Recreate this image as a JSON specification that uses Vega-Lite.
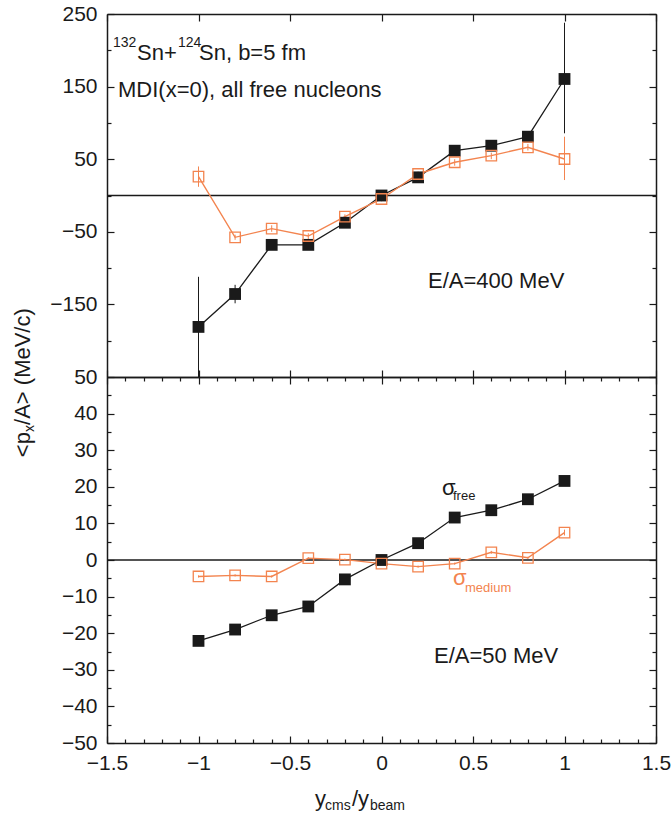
{
  "$schema": "https://vega.github.io/schema/vega-lite/v6.json",
  "width": 549,
  "height": 729,
  "autosize": "none",
  "padding": {"left": 107, "top": 14, "right": 15, "bottom": 73},
  "background": "white",
  "config": {
    "view": {"stroke": null},
    "axis": {
      "domainColor": "#1a1a1a", "domainWidth": 1.5,
      "tickColor": "#1a1a1a", "tickWidth": 1.2,
      "labelFont": "Liberation Sans", "labelFontSize": 21, "labelColor": "#1a1a1a",
      "grid": false, "labelFlush": false, "labelOverlap": false
    }
  },
  "datasets": {
    "top": [
      {"x": -1, "s": "free", "y": -181, "lo": -250, "hi": -112},
      {"x": -0.8, "s": "free", "y": -135.7, "lo": -148.5, "hi": -123},
      {"x": -0.6, "s": "free", "y": -68, "lo": -68, "hi": -68},
      {"x": -0.4, "s": "free", "y": -68, "lo": -68, "hi": -68},
      {"x": -0.2, "s": "free", "y": -37.5, "lo": -37.5, "hi": -37.5},
      {"x": 0, "s": "free", "y": 0, "lo": 0, "hi": 0},
      {"x": 0.2, "s": "free", "y": 25, "lo": 25, "hi": 25},
      {"x": 0.4, "s": "free", "y": 61.7, "lo": 61.7, "hi": 61.7},
      {"x": 0.6, "s": "free", "y": 68.6, "lo": 68.6, "hi": 68.6},
      {"x": 0.8, "s": "free", "y": 81, "lo": 81, "hi": 81},
      {"x": 1, "s": "free", "y": 160.5, "lo": 85.7, "hi": 238},
      {"x": -1, "s": "medium", "y": 26, "lo": 12, "hi": 40},
      {"x": -0.8, "s": "medium", "y": -57.6, "lo": -61, "hi": -54},
      {"x": -0.6, "s": "medium", "y": -45.7, "lo": -50, "hi": -41},
      {"x": -0.4, "s": "medium", "y": -55.8, "lo": -60, "hi": -52},
      {"x": -0.2, "s": "medium", "y": -29.2, "lo": -33, "hi": -26},
      {"x": 0, "s": "medium", "y": -4.8, "lo": -8, "hi": -2},
      {"x": 0.2, "s": "medium", "y": 29.6, "lo": 26, "hi": 33},
      {"x": 0.4, "s": "medium", "y": 45.8, "lo": 41, "hi": 50},
      {"x": 0.6, "s": "medium", "y": 54.9, "lo": 50, "hi": 59},
      {"x": 0.8, "s": "medium", "y": 66.4, "lo": 62, "hi": 71},
      {"x": 1, "s": "medium", "y": 50.3, "lo": 21.3, "hi": 81}
    ],
    "bottom": [
      {"x": -1, "s": "free", "y": -22.1},
      {"x": -0.8, "s": "free", "y": -19.0},
      {"x": -0.6, "s": "free", "y": -15.1},
      {"x": -0.4, "s": "free", "y": -12.7},
      {"x": -0.2, "s": "free", "y": -5.3},
      {"x": 0, "s": "free", "y": 0},
      {"x": 0.2, "s": "free", "y": 4.6},
      {"x": 0.4, "s": "free", "y": 11.6},
      {"x": 0.6, "s": "free", "y": 13.6},
      {"x": 0.8, "s": "free", "y": 16.6},
      {"x": 1, "s": "free", "y": 21.6},
      {"x": -1, "s": "medium", "y": -4.5, "lo": -4.8, "hi": -4.2},
      {"x": -0.8, "s": "medium", "y": -4.2, "lo": -4.5, "hi": -3.9},
      {"x": -0.6, "s": "medium", "y": -4.5, "lo": -4.8, "hi": -4.2},
      {"x": -0.4, "s": "medium", "y": 0.5, "lo": 0.2, "hi": 0.8},
      {"x": -0.2, "s": "medium", "y": 0.1, "lo": -0.2, "hi": 0.4},
      {"x": 0, "s": "medium", "y": -1.0, "lo": -1.3, "hi": -0.7},
      {"x": 0.2, "s": "medium", "y": -1.8, "lo": -2.1, "hi": -1.5},
      {"x": 0.4, "s": "medium", "y": -1.0, "lo": -1.3, "hi": -0.7},
      {"x": 0.6, "s": "medium", "y": 2.1, "lo": 1.7, "hi": 2.5},
      {"x": 0.8, "s": "medium", "y": 0.6, "lo": 0.3, "hi": 0.9},
      {"x": 1, "s": "medium", "y": 7.5, "lo": 6.7, "hi": 8.3}
    ],
    "labels": [
      {"role": "top-main", "x": -1.3361, "y": 186.6, "t": "Sn+"},
      {"role": "top-main", "x": -0.9973, "y": 186.6, "t": "Sn, b=5 fm"},
      {"role": "top-main", "x": -1.4399, "y": 135.7, "t": "MDI(x=0), all free nucleons"},
      {"role": "top-main", "x": 0.254, "y": -127.4, "t": "E/A=400 MeV"},
      {"role": "top-sup", "x": -1.4672, "y": 204.5, "t": "132"},
      {"role": "top-sup", "x": -1.112, "y": 204.5, "t": "124"},
      {"role": "bottom-main", "x": 0.2869, "y": -28.1, "t": "E/A=50 MeV"},
      {"role": "bottom-main", "x": 0.3306, "y": 17.76, "t": "σ"},
      {"role": "bottom-sub", "x": 0.3907, "y": 16.4, "t": "free"},
      {"role": "medium-main", "x": 0.3907, "y": -6.83, "t": "σ"},
      {"role": "medium-sub", "x": 0.4563, "y": -8.74, "t": "medium"},
      {"role": "xtitle-main", "x": -0.3634, "y": -67.2, "t": "y"},
      {"role": "xtitle-main", "x": -0.1612, "y": -67.2, "t": "/y"},
      {"role": "xtitle-sub", "x": -0.3087, "y": -68.3, "t": "cms"},
      {"role": "xtitle-sub", "x": -0.0628, "y": -68.3, "t": "beam"},
      {"role": "ytitle-main", "x": -1.9208, "y": 28.1, "t": "<p"},
      {"role": "ytitle-main", "x": -1.9208, "y": 36.9, "t": "/A> (MeV/c)"},
      {"role": "ytitle-sub", "x": -1.899, "y": 34.97, "t": "x"}
    ]
  },
  "layer": [
    {
      "data": {"values": [{"y": 0}]},
      "mark": {"type": "rule", "color": "#1a1a1a", "strokeWidth": 1.6},
      "encoding": {
        "y": {"field": "y", "type": "quantitative", "scale": {"domain": [-250, 250], "range": [363, 0], "nice": false, "zero": false}, "axis": null}
      }
    },
    {
      "data": {"values": [{"y": 0}]},
      "mark": {"type": "rule", "color": "#1a1a1a", "strokeWidth": 1.6},
      "encoding": {
        "y": {"field": "y", "type": "quantitative", "scale": {"domain": [-50, 50], "range": [729, 363], "nice": false, "zero": false}, "axis": null}
      }
    },
    {
      "data": {"name": "top"},
      "transform": [{"filter": "datum.s === 'free'"}],
      "mark": {"type": "line", "color": "#1a1a1a", "strokeWidth": 1.3},
      "encoding": {
        "x": {"field": "x", "type": "quantitative", "scale": {"domain": [-1.5, 1.5], "nice": false},
          "axis": {"orient": "top", "values": [-1.5, -1, -0.5, 0, 0.5, 1, 1.5], "labels": false, "tickSize": -7, "title": null}},
        "y": {"field": "y", "type": "quantitative", "scale": {"domain": [-250, 250], "range": [363, 0], "nice": false, "zero": false},
          "axis": {"orient": "left", "values": [-150, -50, 50, 150, 250], "format": "d", "tickSize": -7, "labelPadding": 17, "title": null}}
      }
    },
    {
      "data": {"name": "top"},
      "transform": [{"filter": "datum.s === 'free'"}],
      "mark": {"type": "rule", "color": "#1a1a1a", "strokeWidth": 1},
      "encoding": {
        "x": {"field": "x", "type": "quantitative", "scale": {"domain": [-1.5, 1.5], "nice": false},
          "axis": {"orient": "bottom", "offset": -366, "values": [-1.5, -1, -0.5, 0, 0.5, 1, 1.5], "labels": false, "tickSize": -7, "title": null}},
        "y": {"field": "lo", "type": "quantitative", "scale": {"domain": [-250, 250], "range": [363, 0], "nice": false, "zero": false},
          "axis": {"orient": "left", "values": [-200, -100, 0, 100, 200], "labels": false, "domain": false, "tickSize": -4, "title": null}},
        "y2": {"field": "hi"}
      }
    },
    {
      "data": {"name": "top"},
      "transform": [{"filter": "datum.s === 'medium'"}],
      "mark": {"type": "line", "color": "#f3844f", "strokeWidth": 1.4},
      "encoding": {
        "x": {"field": "x", "type": "quantitative", "scale": {"domain": [-1.5, 1.5], "nice": false}, "axis": null},
        "y": {"field": "y", "type": "quantitative", "scale": {"domain": [-250, 250], "range": [363, 0], "nice": false, "zero": false},
          "axis": {"orient": "right", "values": [-150, -50, 50, 150, 250], "labels": false, "tickSize": -7, "title": null}}
      }
    },
    {
      "data": {"name": "top"},
      "transform": [{"filter": "datum.s === 'medium'"}],
      "mark": {"type": "rule", "color": "#f3844f", "strokeWidth": 1},
      "encoding": {
        "x": {"field": "x", "type": "quantitative", "scale": {"domain": [-1.5, 1.5], "nice": false}, "axis": null},
        "y": {"field": "lo", "type": "quantitative", "scale": {"domain": [-250, 250], "range": [363, 0], "nice": false, "zero": false},
          "axis": {"orient": "right", "values": [-200, -100, 0, 100, 200], "labels": false, "domain": false, "tickSize": -4, "title": null}},
        "y2": {"field": "hi"}
      }
    },
    {
      "data": {"name": "top"},
      "transform": [{"filter": "datum.s === 'free'"}],
      "mark": {"type": "point", "shape": "square", "filled": true, "size": 140, "color": "#1a1a1a", "opacity": 1},
      "encoding": {
        "x": {"field": "x", "type": "quantitative", "scale": {"domain": [-1.5, 1.5], "nice": false}, "axis": null},
        "y": {"field": "y", "type": "quantitative", "scale": {"domain": [-250, 250], "range": [363, 0], "nice": false, "zero": false}, "axis": null}
      }
    },
    {
      "data": {"name": "top"},
      "transform": [{"filter": "datum.s === 'medium'"}],
      "mark": {"type": "point", "shape": "square", "filled": false, "size": 110, "color": "#f3844f", "strokeWidth": 1.3, "opacity": 1},
      "encoding": {
        "x": {"field": "x", "type": "quantitative", "scale": {"domain": [-1.5, 1.5], "nice": false}, "axis": null},
        "y": {"field": "y", "type": "quantitative", "scale": {"domain": [-250, 250], "range": [363, 0], "nice": false, "zero": false}, "axis": null}
      }
    },
    {
      "data": {"name": "labels"},
      "transform": [{"filter": "datum.role === 'top-main'"}],
      "mark": {"type": "text", "align": "left", "baseline": "alphabetic", "font": "Liberation Sans", "fontSize": 22, "color": "#1a1a1a"},
      "encoding": {
        "x": {"field": "x", "type": "quantitative", "scale": {"domain": [-1.5, 1.5], "nice": false}, "axis": null},
        "y": {"field": "y", "type": "quantitative", "scale": {"domain": [-250, 250], "range": [363, 0], "nice": false, "zero": false}, "axis": null},
        "text": {"field": "t"}
      }
    },
    {
      "data": {"name": "labels"},
      "transform": [{"filter": "datum.role === 'top-sup'"}],
      "mark": {"type": "text", "align": "left", "baseline": "alphabetic", "font": "Liberation Sans", "fontSize": 14, "color": "#1a1a1a"},
      "encoding": {
        "x": {"field": "x", "type": "quantitative", "scale": {"domain": [-1.5, 1.5], "nice": false}, "axis": null},
        "y": {"field": "y", "type": "quantitative", "scale": {"domain": [-250, 250], "range": [363, 0], "nice": false, "zero": false}, "axis": null},
        "text": {"field": "t"}
      }
    },
    {
      "data": {"name": "bottom"},
      "transform": [{"filter": "datum.s === 'free'"}],
      "mark": {"type": "line", "color": "#1a1a1a", "strokeWidth": 1.3},
      "encoding": {
        "x": {"field": "x", "type": "quantitative", "scale": {"domain": [-1.5, 1.5], "nice": false},
          "axis": {"orient": "bottom", "values": [-1.5, -1, -0.5, 0, 0.5, 1, 1.5], "format": "~g", "tickSize": -7, "labelPadding": 16, "title": null}},
        "y": {"field": "y", "type": "quantitative", "scale": {"domain": [-50, 50], "range": [729, 363], "nice": false, "zero": false},
          "axis": {"orient": "left", "values": [-50, -40, -30, -20, -10, 0, 10, 20, 30, 40, 50], "format": "d", "tickSize": -7, "labelPadding": 17, "title": null}}
      }
    },
    {
      "data": {"name": "bottom"},
      "transform": [{"filter": "datum.s === 'medium'"}],
      "mark": {"type": "line", "color": "#f3844f", "strokeWidth": 1.4},
      "encoding": {
        "x": {"field": "x", "type": "quantitative", "scale": {"domain": [-1.5, 1.5], "nice": false},
          "axis": {"orient": "bottom", "values": [-1.4, -1.3, -1.2, -1.1, -0.9, -0.8, -0.7, -0.6, -0.4, -0.3, -0.2, -0.1, 0.1, 0.2, 0.3, 0.4, 0.6, 0.7, 0.8, 0.9, 1.1, 1.2, 1.3, 1.4], "labels": false, "domain": false, "tickSize": -4, "title": null}},
        "y": {"field": "y", "type": "quantitative", "scale": {"domain": [-50, 50], "range": [729, 363], "nice": false, "zero": false},
          "axis": {"orient": "left", "values": [-45, -35, -25, -15, -5, 5, 15, 25, 35, 45], "labels": false, "domain": false, "tickSize": -4, "title": null}}
      }
    },
    {
      "data": {"name": "bottom"},
      "transform": [{"filter": "datum.s === 'medium'"}],
      "mark": {"type": "rule", "color": "#f3844f", "strokeWidth": 1},
      "encoding": {
        "x": {"field": "x", "type": "quantitative", "scale": {"domain": [-1.5, 1.5], "nice": false},
          "axis": {"orient": "top", "offset": -363, "values": [-1.5, -1, -0.5, 0, 0.5, 1, 1.5], "labels": false, "tickSize": -7, "title": null}},
        "y": {"field": "lo", "type": "quantitative", "scale": {"domain": [-50, 50], "range": [729, 363], "nice": false, "zero": false},
          "axis": {"orient": "right", "values": [-50, -40, -30, -20, -10, 0, 10, 20, 30, 40, 50], "labels": false, "tickSize": -7, "title": null}},
        "y2": {"field": "hi"}
      }
    },
    {
      "data": {"name": "bottom"},
      "transform": [{"filter": "datum.s === 'free'"}],
      "mark": {"type": "point", "shape": "square", "filled": true, "size": 140, "color": "#1a1a1a", "opacity": 1},
      "encoding": {
        "x": {"field": "x", "type": "quantitative", "scale": {"domain": [-1.5, 1.5], "nice": false},
          "axis": {"orient": "top", "offset": -363, "values": [-1.4, -1.3, -1.2, -1.1, -0.9, -0.8, -0.7, -0.6, -0.4, -0.3, -0.2, -0.1, 0.1, 0.2, 0.3, 0.4, 0.6, 0.7, 0.8, 0.9, 1.1, 1.2, 1.3, 1.4], "labels": false, "domain": false, "tickSize": -4, "title": null}},
        "y": {"field": "y", "type": "quantitative", "scale": {"domain": [-50, 50], "range": [729, 363], "nice": false, "zero": false},
          "axis": {"orient": "right", "values": [-45, -35, -25, -15, -5, 5, 15, 25, 35, 45], "labels": false, "domain": false, "tickSize": -4, "title": null}}
      }
    },
    {
      "data": {"name": "bottom"},
      "transform": [{"filter": "datum.s === 'medium'"}],
      "mark": {"type": "point", "shape": "square", "filled": false, "size": 110, "color": "#f3844f", "strokeWidth": 1.3, "opacity": 1},
      "encoding": {
        "x": {"field": "x", "type": "quantitative", "scale": {"domain": [-1.5, 1.5], "nice": false}, "axis": null},
        "y": {"field": "y", "type": "quantitative", "scale": {"domain": [-50, 50], "range": [729, 363], "nice": false, "zero": false}, "axis": null}
      }
    },
    {
      "data": {"name": "labels"},
      "transform": [{"filter": "datum.role === 'bottom-main' || datum.role === 'xtitle-main'"}],
      "mark": {"type": "text", "align": "left", "baseline": "alphabetic", "font": "Liberation Sans", "fontSize": 22, "color": "#1a1a1a"},
      "encoding": {
        "x": {"field": "x", "type": "quantitative", "scale": {"domain": [-1.5, 1.5], "nice": false}, "axis": null},
        "y": {"field": "y", "type": "quantitative", "scale": {"domain": [-50, 50], "range": [729, 363], "nice": false, "zero": false}, "axis": null},
        "text": {"field": "t"}
      }
    },
    {
      "data": {"name": "labels"},
      "transform": [{"filter": "datum.role === 'xtitle-sub'"}],
      "mark": {"type": "text", "align": "left", "baseline": "alphabetic", "font": "Liberation Sans", "fontSize": 14, "color": "#1a1a1a"},
      "encoding": {
        "x": {"field": "x", "type": "quantitative", "scale": {"domain": [-1.5, 1.5], "nice": false}, "axis": null},
        "y": {"field": "y", "type": "quantitative", "scale": {"domain": [-50, 50], "range": [729, 363], "nice": false, "zero": false}, "axis": null},
        "text": {"field": "t"}
      }
    },
    {
      "data": {"name": "labels"},
      "transform": [{"filter": "datum.role === 'bottom-sub'"}],
      "mark": {"type": "text", "align": "left", "baseline": "alphabetic", "font": "Liberation Sans", "fontSize": 13, "color": "#1a1a1a"},
      "encoding": {
        "x": {"field": "x", "type": "quantitative", "scale": {"domain": [-1.5, 1.5], "nice": false}, "axis": null},
        "y": {"field": "y", "type": "quantitative", "scale": {"domain": [-50, 50], "range": [729, 363], "nice": false, "zero": false}, "axis": null},
        "text": {"field": "t"}
      }
    },
    {
      "data": {"name": "labels"},
      "transform": [{"filter": "datum.role === 'medium-main'"}],
      "mark": {"type": "text", "align": "left", "baseline": "alphabetic", "font": "Liberation Sans", "fontSize": 22, "color": "#f3844f"},
      "encoding": {
        "x": {"field": "x", "type": "quantitative", "scale": {"domain": [-1.5, 1.5], "nice": false}, "axis": null},
        "y": {"field": "y", "type": "quantitative", "scale": {"domain": [-50, 50], "range": [729, 363], "nice": false, "zero": false}, "axis": null},
        "text": {"field": "t"}
      }
    },
    {
      "data": {"name": "labels"},
      "transform": [{"filter": "datum.role === 'medium-sub'"}],
      "mark": {"type": "text", "align": "left", "baseline": "alphabetic", "font": "Liberation Sans", "fontSize": 13, "color": "#f3844f"},
      "encoding": {
        "x": {"field": "x", "type": "quantitative", "scale": {"domain": [-1.5, 1.5], "nice": false}, "axis": null},
        "y": {"field": "y", "type": "quantitative", "scale": {"domain": [-50, 50], "range": [729, 363], "nice": false, "zero": false}, "axis": null},
        "text": {"field": "t"}
      }
    },
    {
      "data": {"name": "labels"},
      "transform": [{"filter": "datum.role === 'ytitle-main'"}],
      "mark": {"type": "text", "align": "left", "baseline": "alphabetic", "angle": 270, "font": "Liberation Sans", "fontSize": 22, "color": "#1a1a1a"},
      "encoding": {
        "x": {"field": "x", "type": "quantitative", "scale": {"domain": [-1.5, 1.5], "nice": false}, "axis": null},
        "y": {"field": "y", "type": "quantitative", "scale": {"domain": [-50, 50], "range": [729, 363], "nice": false, "zero": false}, "axis": null},
        "text": {"field": "t"}
      }
    },
    {
      "data": {"name": "labels"},
      "transform": [{"filter": "datum.role === 'ytitle-sub'"}],
      "mark": {"type": "text", "align": "left", "baseline": "alphabetic", "angle": 270, "font": "Liberation Sans", "fontSize": 14, "color": "#1a1a1a"},
      "encoding": {
        "x": {"field": "x", "type": "quantitative", "scale": {"domain": [-1.5, 1.5], "nice": false}, "axis": null},
        "y": {"field": "y", "type": "quantitative", "scale": {"domain": [-50, 50], "range": [729, 363], "nice": false, "zero": false}, "axis": null},
        "text": {"field": "t"}
      }
    }
  ],
  "resolve": {"scale": {"y": "independent"}, "axis": {"x": "independent", "y": "independent"}}
}
